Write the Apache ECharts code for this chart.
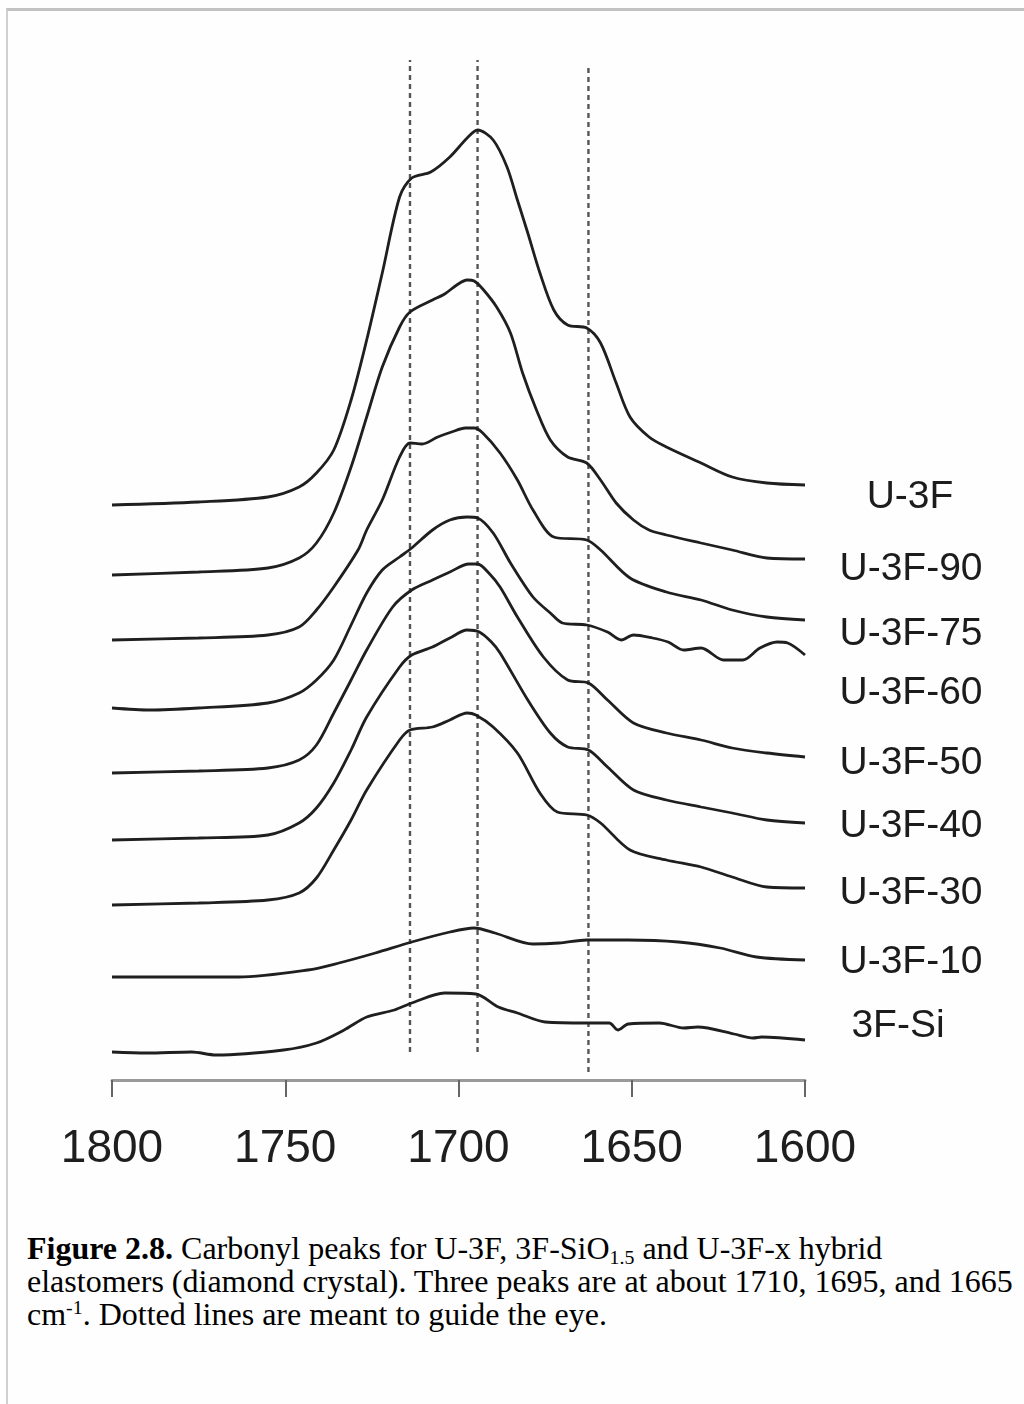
<!DOCTYPE html>
<html>
<head>
<meta charset="utf-8">
<script src="https://cdn.jsdelivr.net/npm/echarts@6/dist/echarts.min.js"></script>
<style>
  html, body { margin: 0; padding: 0; background: #ffffff; }
  #page { position: relative; width: 1024px; height: 1404px; overflow: hidden; background: #fefefe; }
  #frame { position: absolute; left: 6px; top: 8px; right: 0; bottom: 0;
           border-top: 3px solid #c2c2c2; border-left: 2px solid #d0d0d0; }
  #chart { position: absolute; left: 0; top: 0; width: 1024px; height: 1200px; }
  #caption { position: absolute; left: 27px; top: 1232px; width: 995px;
             font-family: "Liberation Serif", "Times New Roman", serif; font-size: 32px;
             line-height: 33px; color: #000; white-space: nowrap; }
  #caption sub { font-size: 0.62em; vertical-align: -0.25em; line-height: 0; }
  #caption sup { font-size: 0.62em; vertical-align: 0.55em; line-height: 0; }
</style>
</head>
<body>
<div id="page">
  <div id="frame"></div>
  <div id="chart"></div>
  <div id="caption"><b>Figure 2.8.</b> Carbonyl peaks for U-3F, 3F-SiO<sub>1.5</sub> and U-3F-x hybrid<br>elastomers (diamond crystal). Three peaks are at about 1710, 1695, and 1665<br>cm<sup>-1</sup>. Dotted lines are meant to guide the eye.</div>
</div>
<script>
// Offset ATR-FTIR carbonyl spectra, [wavenumber (cm-1), absorbance (a.u., stacked)]
const seriesNames = ['U-3F', 'U-3F-90', 'U-3F-75', 'U-3F-60', 'U-3F-50', 'U-3F-40', 'U-3F-30', 'U-3F-10', '3F-Si'];

const u3f = [
  [1800, 57.5], [1775, 57.8], [1755, 58.3], [1746, 59.3], [1741, 60.7], [1736, 63.0],
  [1731, 68.0], [1726.5, 74.0], [1722, 80.7], [1717, 88.3], [1713.5, 90.2], [1708, 90.8],
  [1702.5, 92.3], [1697.5, 94.2], [1694.5, 95.0], [1690, 94.0], [1686, 91.3], [1683, 88.0],
  [1680, 84.7], [1676.5, 80.7], [1672.5, 77.0], [1668.5, 75.5], [1663, 75.2], [1659, 73.7],
  [1654.5, 69.7], [1650.5, 66.3], [1645, 64.3], [1640, 63.3], [1630, 61.7], [1621, 60.3],
  [1611, 59.7], [1600, 59.5]
];
const u3f90 = [
  [1800, 50.5], [1775, 50.8], [1755, 51.2], [1746, 52.2], [1741, 53.7], [1736, 56.7],
  [1731, 61.3], [1726.5, 66.3], [1722, 71.3], [1717, 75.3], [1714, 76.8], [1707.5, 78.0],
  [1704, 78.6], [1700.5, 79.5], [1697.5, 80.0], [1695.5, 79.9], [1693, 79.1], [1689, 77.3],
  [1685, 74.7], [1681.5, 70.7], [1677.5, 67.0], [1673.5, 64.0], [1668.5, 62.3], [1663, 61.7],
  [1659, 60.0], [1654.5, 57.7], [1649.5, 56.0], [1645, 55.0], [1640, 54.5], [1630, 53.7],
  [1621, 53.0], [1611, 52.2], [1600, 52.1]
];
const u3f75 = [
  [1800, 44.0], [1775, 44.2], [1755, 44.5], [1746, 45.3], [1741, 47.0], [1736, 49.3],
  [1729, 53.0], [1726.5, 55.0], [1722, 58.0], [1717, 62.3], [1714, 63.7], [1710.5, 63.6],
  [1706, 64.3], [1702, 64.8], [1698, 65.2], [1695.5, 65.2], [1693, 64.7], [1688, 62.7],
  [1683, 60.0], [1678.5, 57.0], [1672.5, 54.3], [1663, 54.0], [1659, 53.0], [1650.5, 50.2],
  [1640, 48.8], [1630, 48.0], [1621, 47.0], [1611, 46.3], [1600, 46.0]
];
const u3f60 = [
  [1800, 37.2], [1789, 37.0], [1775, 37.2], [1755, 37.7], [1746, 38.7], [1741, 40.0],
  [1736, 42.0], [1731, 45.5], [1726.5, 48.7], [1722, 51.0], [1717, 52.3], [1713.5, 53.2],
  [1707.5, 55.0], [1702.5, 56.0], [1697.5, 56.3], [1694.5, 56.2], [1690, 54.7], [1685, 51.7],
  [1678.5, 48.3], [1673.5, 46.7], [1670, 45.7], [1663, 45.5], [1657, 44.8], [1653, 44.0],
  [1649.5, 44.5], [1644, 44.2], [1639.5, 43.8], [1635, 43.0], [1630, 43.2], [1623.5, 42.0],
  [1618, 42.0], [1613, 43.2], [1608, 43.8], [1605, 43.7], [1600, 42.5]
];
const u3f50 = [
  [1800, 30.7], [1775, 30.9], [1755, 31.2], [1746, 32.0], [1741, 33.5], [1736, 36.7],
  [1731, 40.0], [1726.5, 43.0], [1719, 47.3], [1713.5, 49.0], [1707.5, 50.0], [1702.5, 50.8],
  [1697, 51.6], [1694.5, 51.6], [1691, 50.6], [1688, 49.3], [1683, 46.3], [1675.5, 42.3],
  [1668.5, 40.0], [1662.5, 39.7], [1657, 38.0], [1649.5, 35.7], [1640, 34.7], [1630, 34.0],
  [1621, 33.2], [1611, 32.7], [1600, 32.3]
];
const u3f40 = [
  [1800, 24.0], [1775, 24.2], [1755, 24.5], [1746, 25.7], [1741, 27.2], [1736, 29.7],
  [1731, 33.0], [1726.5, 36.3], [1717, 41.3], [1713.5, 42.5], [1707.5, 43.3], [1702.5, 44.2],
  [1697.5, 45.0], [1694, 44.8], [1690.5, 43.8], [1688, 42.7], [1680, 38.0], [1673.5, 34.7],
  [1668.5, 33.3], [1662.5, 33.0], [1657, 31.3], [1649.5, 29.0], [1640, 28.0], [1630, 27.3],
  [1621, 26.7], [1611, 26.0], [1600, 25.7]
];
const u3f30 = [
  [1800, 17.5], [1775, 17.7], [1755, 18.0], [1746, 18.7], [1741, 20.2], [1736, 23.0],
  [1731, 26.0], [1726.5, 29.0], [1717, 34.0], [1714, 35.0], [1707.5, 35.3], [1702.5, 36.0],
  [1697.5, 36.7], [1695, 36.5], [1690, 35.3], [1683, 32.7], [1676.5, 28.7], [1671.5, 26.8],
  [1663, 26.5], [1659, 25.7], [1650.5, 23.0], [1640, 22.0], [1630, 21.3], [1621, 20.3],
  [1611, 19.3], [1600, 19.2]
];
const u3f10 = [
  [1800, 10.3], [1780, 10.3], [1763.5, 10.3], [1743.5, 11.0], [1734.5, 11.7], [1724, 12.7],
  [1713.5, 13.8], [1702.5, 14.8], [1695.5, 15.2], [1689.5, 14.7], [1678.5, 13.6], [1671, 13.7],
  [1663, 14.0], [1651, 14.0], [1636.5, 13.8], [1624.5, 13.2], [1614, 12.3], [1600, 12.0]
];
const f3si = [
  [1800, 2.8], [1790, 2.7], [1777, 2.8], [1770, 2.5], [1750.5, 3.0], [1741, 3.7],
  [1733, 5.0], [1726.5, 6.3], [1718.5, 7.0], [1713.5, 7.7], [1704, 8.7], [1695, 8.6],
  [1688.5, 7.3], [1683, 6.7], [1675, 5.8], [1663, 5.7], [1656.5, 5.7], [1654, 5.0],
  [1651, 5.6], [1642, 5.7], [1635, 5.2], [1631, 5.3], [1620.5, 4.6], [1615, 4.2],
  [1612.5, 4.3], [1600, 4.0]
];
const spectra = [u3f, u3f90, u3f75, u3f60, u3f50, u3f40, u3f30, u3f10, f3si];

// Guide-to-the-eye positions (cm-1) and their vertical extent (a.u.)
const guidePositions = [1714, 1694.5, 1662.5];
const guideSpans = [[2.8, 102.0], [2.8, 102.0], [0.8, 101.3]];

// Wavenumber axis ticks
const xTicks = [1800, 1750, 1700, 1650, 1600];

// Label placement (pixels) for the sample names on the right
const labelX = [910, 911, 911, 911, 911, 911, 911, 911, 898];
const labelY = [497, 569, 634, 693, 763, 826, 893, 962, 1026];

const chart = echarts.init(document.getElementById('chart'), null, { renderer: 'canvas' });

const lineColor = '#1f1f1f';
const series = spectra.map((d, i) => ({
  name: seriesNames[i],
  type: 'line',
  data: d,
  smooth: 0.3,
  symbol: 'none',
  silent: true,
  lineStyle: { color: lineColor, width: 2.8 },
  z: 3
}));

guidePositions.forEach((w, i) => {
  series.push({
    type: 'line',
    data: [[w, guideSpans[i][0]], [w, guideSpans[i][1]]],
    symbol: 'none',
    silent: true,
    lineStyle: { color: '#555555', width: 2.4, type: [5, 4] },
    z: 2
  });
});

const option = {
  animation: false,
  backgroundColor: 'transparent',
  grid: { left: 112, right: 219, top: 40, bottom: 120 },
  xAxis: {
    type: 'value',
    inverse: true,
    min: xTicks[xTicks.length - 1],
    max: xTicks[0],
    interval: 50,
    splitLine: { show: false },
    axisLine: { show: true, onZero: false, lineStyle: { color: '#9a9a9a', width: 3 } },
    axisTick: { show: true, length: 17, lineStyle: { color: '#666666', width: 2 } },
    axisLabel: {
      margin: 46,
      color: '#1e1e1e',
      fontSize: 46,
      fontFamily: 'Liberation Sans, Arial, sans-serif',
      formatter: v => String(v)
    }
  },
  yAxis: { type: 'value', min: 0, max: 104, show: false },
  graphic: seriesNames.map((name, i) => ({
    type: 'text',
    x: labelX[i],
    y: labelY[i],
    silent: true,
    style: {
      text: name,
      fill: '#1c1c1c',
      font: '39px "Liberation Sans", Arial, sans-serif',
      textAlign: 'center',
      textVerticalAlign: 'middle'
    }
  })),
  series: series
};

chart.setOption(option);
</script>
</body>
</html>
